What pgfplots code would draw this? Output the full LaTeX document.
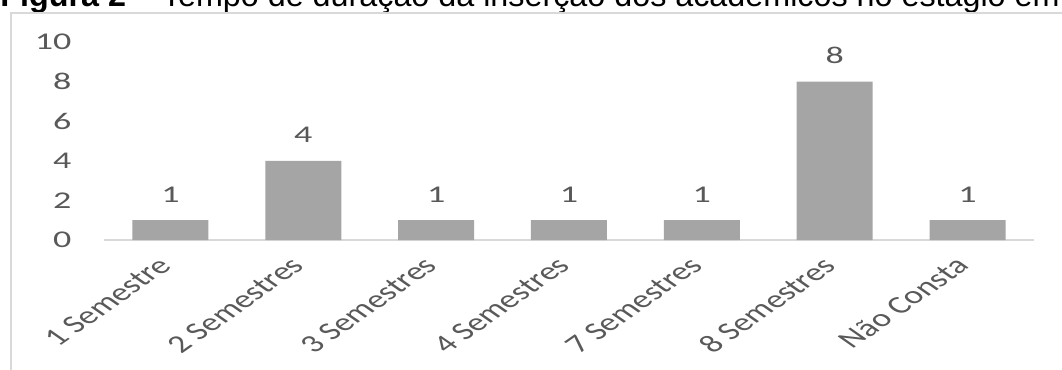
\documentclass[border=0pt]{standalone}
\usepackage{pgfplots}
\pgfplotsset{compat=1.18}
\usepackage{fontspec}
\newfontfamily\carlito{Carlito}
\newfontfamily\arial{Liberation Sans}
\definecolor{bargray}{HTML}{A5A5A5}
\definecolor{labelgray}{HTML}{595959}
\definecolor{linegray}{HTML}{D9D9D9}

\begin{document}
\begin{tikzpicture}
\path[use as bounding box] (0pt,0pt) rectangle (531pt,-185pt);
\clip (0pt,0pt) rectangle (531pt,-185pt);
% caption line above the chart frame
\node[anchor=base west, inner sep=0pt, font=\arial\fontsize{16.15}{19}\selectfont]
  at (0pt,-3.4pt) {\textbf{Figura 2} – Tempo de duração da inserção dos acadêmicos no estágio em};
% chart frame
\draw[linegray, line width=1pt, fill=white] (5.5pt,-6.25pt) rectangle (560pt,-220pt);
\begin{axis}[
  at={(52pt,-120pt)}, anchor=south west,
  scale only axis, width=465pt, height=99pt,
  xmin=-0.5, xmax=6.5, ymin=0, ymax=10,
  ytick={0,2,4,6,8,10},
  xtick={0,...,6},
  xticklabels={1 Semestre, 2 Semestres, 3 Semestres, 4 Semestres, 7 Semestres, 8 Semestres, Não Consta},
  axis x line*=bottom, axis y line*=left,
  x axis line style={linegray, line width=0.75pt, -},
  y axis line style={draw=none},
  major tick length=0pt,
  tick style={draw=none},
  /pgf/number format/assume math mode=true,
  tick label style={text=labelgray, inner sep=0pt},
  y tick label style={font=\carlito\fontsize{12}{14}\selectfont, anchor=east, xshift=-16pt, xscale=1.5},
  % labels turned by 45 degrees, then widened horizontally
  x tick label style={font=\carlito\fontsize{12.5}{14}\selectfont, anchor=east,
    xshift=-2.6pt, yshift=-10.65pt, cm={1.011,0.707,-1.011,0.707,(0pt,0pt)}},
  ybar, bar width=38pt,
  nodes near coords,
  nodes near coords style={font=\carlito\fontsize{12}{14}\selectfont, text=labelgray,
    inner sep=0pt, anchor=south, yshift=8.75pt, xscale=1.5},
]
\addplot[fill=bargray, draw=none] coordinates {(0,1) (1,4) (2,1) (3,1) (4,1) (5,8) (6,1)};
\end{axis}
\end{tikzpicture}
\end{document}
